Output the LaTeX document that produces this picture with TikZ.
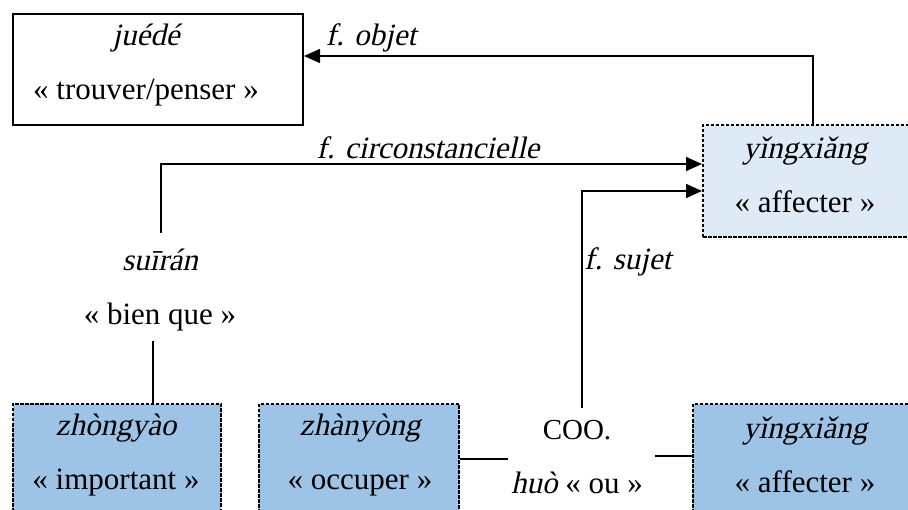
\documentclass[tikz,border=0pt]{standalone}
\usepackage{fontspec}
\setmainfont{Liberation Serif}[ItalicFont={Liberation Serif}, ItalicFeatures={FakeSlant=0.22}]
\newfontfamily\tnr{Liberation Serif}[ItalicFont={Liberation Serif}, ItalicFeatures={FakeSlant=0.22}]
\usetikzlibrary{arrows.meta}
\definecolor{lightb}{HTML}{DEEBF7}
\definecolor{midb}{HTML}{9DC3E6}
\begin{document}
\begin{tikzpicture}[x=1pt,y=-1pt,
  every node/.style={font=\tnr\fontsize{31}{54}\selectfont, inner sep=0pt},
  plainbox/.style={draw, line width=2pt, anchor=north west},
  dbox/.style={draw, line width=2pt, dash pattern=on 3.5pt off 1.5pt, anchor=north west},
  conn/.style={line width=1.5pt},
  arr/.style={conn, -{Triangle[length=16pt,width=14pt]}},
  txt/.style={align=center}]
\useasboundingbox (0,0) rectangle (908,510);
\clip (0,0) rectangle (908,510);
% boxes
\node[plainbox, minimum width=290pt, minimum height=111pt] (juede) at (12,13) {};
\node[txt] (juedeT) at (146,65) {\textit{juédé}\\« trouver/penser »};
\node[dbox, fill=lightb, minimum width=212pt, minimum height=112pt] (yx1) at (702,124) {};
\node[txt] (yx1T) at (805,175) {\textit{yǐngxiǎng}\\« affecter »};
\node[dbox, fill=midb, minimum width=208pt, minimum height=120pt] (zy) at (12,403) {};
\node[txt] (zyT) at (116,455) {\textit{zhòngyào}\\« important »};
\node[dbox, fill=midb, minimum width=200pt, minimum height=120pt] (zhy) at (258,403) {};
\node[txt] (zhyT) at (360,455) {\textit{zhànyòng}\\« occuper »};
\node[dbox, fill=midb, minimum width=230pt, minimum height=120pt] (yx2) at (692,403) {};
\node[txt] (yx2T) at (805,455) {\textit{yǐngxiǎng}\\« affecter »};
% free words
\node[txt] (suiran) at (160,290) {\textit{suīrán}\\« bien que »};
\node (coo) at (577,430) {{\tnr\fontsize{29}{30}\selectfont COO.}};
\node (huo) at (577,483) {\textit{huò} « ou »};
% labels
\node (lobj) at (371,38) {\textit{f. objet}};
\node (lcirc) at (428,148) {\textit{f. circonstancielle}};
\node[anchor=west] (lsuj) at (584,262) {\textit{f. sujet}};
% connectors
\coordinate (objtop) at (813,56);
\draw[arr] (yx1.north -| objtop) -- (objtop) -- (objtop -| juede.east);
\coordinate (circ) at (161,164);
\draw[arr, shorten <=16pt] (suiran.north -| circ) -- (circ) -- (circ -| yx1.west);
\draw[conn, shorten <=10pt] ([xshift=-7pt]suiran.south) -- ([xshift=-7pt]suiran.south |- zy.north);
\coordinate (suj) at (582,191);
\draw[arr, shorten <=12pt] (coo.north -| suj) -- (suj) -- (suj -| yx1.west);
\draw[conn] ([yshift=5pt]zhy.east) -- ++(48,0);
\draw[conn] ([yshift=8pt]yx2.west) -- ++(-37,0);
\end{tikzpicture}
\end{document}
